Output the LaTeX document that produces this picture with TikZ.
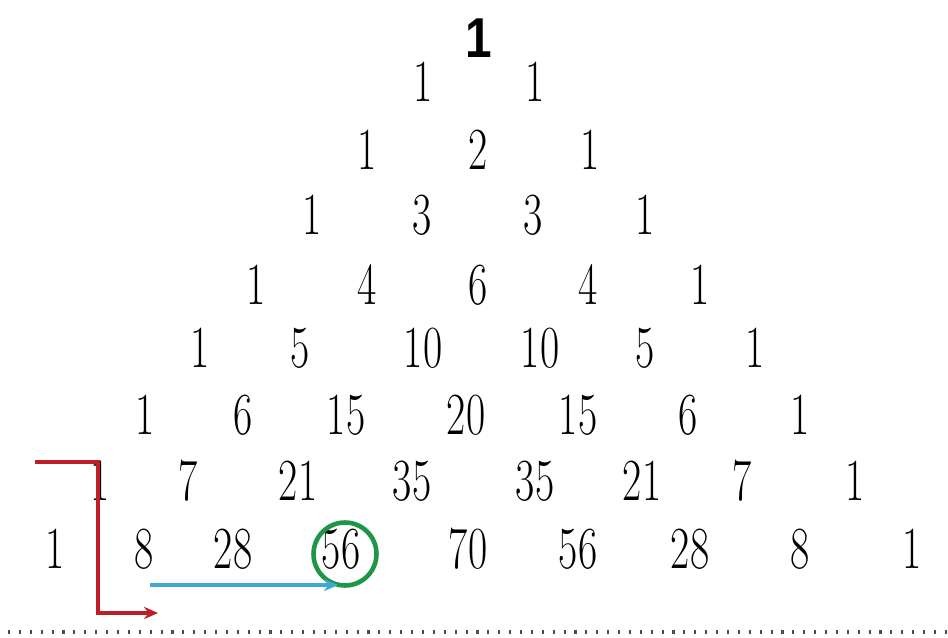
\documentclass[tikz,border=0pt]{standalone}
\usepackage{fontspec}
\usepackage{tikz}
\usetikzlibrary{arrows.meta}
\newfontfamily\apexfont{Liberation Sans}
\newcommand\numfont{\fontsize{34}{34}\selectfont}

\begin{document}
\begin{tikzpicture}[x=0.02cm,y=-0.02cm,
    num/.style={font=\numfont, inner sep=0pt, xscale=0.7},
    apex/.style={font=\apexfont\bfseries\fontsize{32}{32}\selectfont, inner sep=0pt, xscale=0.85},
    redpath/.style={draw={rgb,255:red,190;green,30;blue,40}, line width=2.3pt, -{Stealth[length=8pt,width=7pt]}},
    bluepath/.style={draw={rgb,255:red,60;green,170;blue,210}, line width=2.3pt, -{Stealth[length=8pt,width=7pt]}},
    ring/.style={draw={rgb,255:red,30;green,150;blue,70}, line width=2.6pt}]
\useasboundingbox (0,0) rectangle (948,638);

% the triangle, row by row
\node[apex] (r0c1) at (479,38) {1};
\foreach \x/\v [count=\i] in {423/1,535/1}
    \node[num] (r1c\i) at (\x,82) {\v};
\foreach \x/\v [count=\i] in {367/1,478/2,590/1}
    \node[num] (r2c\i) at (\x,150) {\v};
\foreach \x/\v [count=\i] in {312/1,422/3,533/3,645/1}
    \node[num] (r3c\i) at (\x,215) {\v};
\foreach \x/\v [count=\i] in {256/1,367/4,478/6,588/4,700/1}
    \node[num] (r4c\i) at (\x,285) {\v};
\foreach \x/\v [count=\i] in {200/1,300/5,423/10,540/10,645/5,755/1}
    \node[num] (r5c\i) at (\x,348) {\v};
\foreach \x/\v [count=\i] in {145/1,243/6,346/15,466/20,578/15,688/6,800/1}
    \node[num] (r6c\i) at (\x,415) {\v};
\foreach \x/\v [count=\i] in {100/1,188/7,298/21,412/35,535/35,642/21,742/7,855/1}
    \node[num] (r7c\i) at (\x,481) {\v};
\foreach \x/\v [count=\i] in {55/1,144/8,233/28,341/56,468/70,578/56,690/28,800/8,912/1}
    \node[num] (r8c\i) at (\x,549) {\v};

% markings
\draw[ring] ([shift={(4,5)}]r8c4) circle[radius=0.63cm];

\coordinate (rstart) at (35,462);
\coordinate (rbend) at (98,462);
\coordinate (rend) at (158,613);
\draw[redpath] (rstart) -- (rbend) |- (rend);

\coordinate (bstart) at (150,585);
\coordinate (bend) at (338,585);
\draw[bluepath] (bstart) -- (bend);

\coordinate (dleft) at (8,632);
\coordinate (dright) at (948,632);
\draw[line width=2.2pt, black!70, dash pattern=on 1.2pt off 5pt] (dleft) -- (dright);
\end{tikzpicture}
\end{document}
